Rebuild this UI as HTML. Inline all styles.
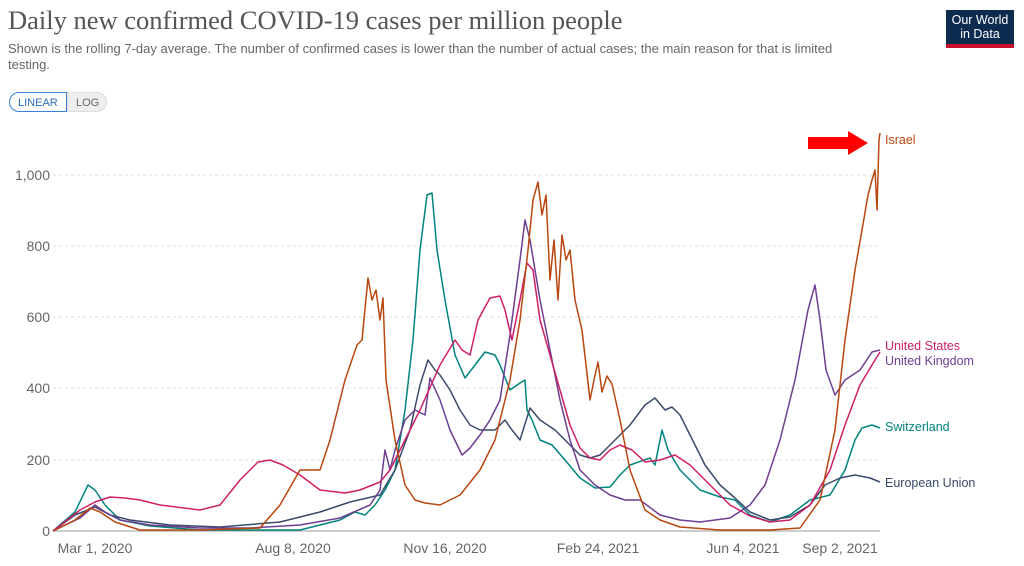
<!DOCTYPE html>
<html><head><meta charset="utf-8"><style>
body{margin:0;width:1024px;height:566px;background:#fff;font-family:"Liberation Sans",sans-serif;overflow:hidden;position:relative}
.t{position:absolute;left:8px;top:5px;font-family:"Liberation Serif",serif;font-size:26.5px;color:#555}
.s{position:absolute;left:8px;top:41px;font-size:13px;color:#666;line-height:16px;width:860px}
.logo{position:absolute;left:946px;top:10px;width:68px;height:38px;background:#0d2a4f;color:#fff;font-size:12.5px;line-height:14px;text-align:center;padding-top:3px;box-sizing:border-box;border-bottom:4px solid #c8102e}
.btn{position:absolute;top:92px;height:20px;font-size:11px;line-height:20px;padding:0 8px;box-sizing:border-box}
</style></head><body>
<div class="t">Daily new confirmed COVID-19 cases per million people</div>
<div class="s">Shown is the rolling 7-day average. The number of confirmed cases is lower than the number of actual cases; the main reason for that is limited testing.</div>
<div class="logo">Our World<br>in Data</div>
<div class="btn" style="left:9px;width:58px;border:1px solid #3a82d8;border-radius:10px 0 0 10px;color:#2a6ebd">LINEAR</div>
<div class="btn" style="left:67px;width:40px;background:#eee;border:1px solid #ddd;border-radius:0 10px 10px 0;color:#666">LOG</div>
<svg width="1024" height="566" style="position:absolute;left:0;top:0" font-family="Liberation Sans, sans-serif">
<g stroke="#ddd" stroke-dasharray="3,3">
<line x1="53" x2="880" y1="175" y2="175"/><line x1="53" x2="880" y1="246" y2="246"/><line x1="53" x2="880" y1="317" y2="317"/><line x1="53" x2="880" y1="388" y2="388"/><line x1="53" x2="880" y1="460" y2="460"/></g>
<line x1="53" x2="880" y1="531" y2="531" stroke="#999"/>
<g font-size="14" fill="#666" text-anchor="end"><text x="50" y="180">1,000</text><text x="50" y="251">800</text><text x="50" y="322">600</text><text x="50" y="393">400</text><text x="50" y="465">200</text><text x="50" y="536">0</text></g>
<g font-size="14" fill="#666" text-anchor="middle"><text x="95" y="553">Mar 1, 2020</text><text x="293" y="553">Aug 8, 2020</text><text x="445" y="553">Nov 16, 2020</text><text x="598" y="553">Feb 24, 2021</text><text x="743" y="553">Jun 4, 2021</text><text x="840" y="553">Sep 2, 2021</text></g>
<g fill="none" stroke-width="1.5" stroke-linejoin="round">
<polyline stroke="#00847e" points="53,531 75,512 88,485 95,490 105,505 120,520 150,526 200,530 300,530 340,520 355,512 365,515 375,505 385,490 395,470 405,410 413,340 420,250 427,195 432,193 437,250 445,300 455,355 465,378 475,365 485,352 495,355 500,365 510,390 520,383 525,380 527,410 532,420 540,440 552,445 565,460 580,478 595,488 610,487 620,475 630,465 650,458 655,465 662,430 668,450 680,470 700,490 720,497 735,500 750,515 770,522 790,515 810,500 830,495 845,470 855,440 862,428 872,425 880,428"/>
<polyline stroke="#3b4a6b" points="53,531 75,515 95,507 110,515 130,520 170,525 220,527 280,522 320,512 350,502 380,495 395,470 410,430 420,385 428,360 435,370 440,375 450,390 460,410 470,425 480,430 495,430 505,420 512,430 520,440 530,408 540,420 555,430 570,445 580,455 590,458 600,455 615,440 630,425 645,405 655,398 665,410 672,407 680,415 690,435 705,465 720,485 735,498 750,512 770,520 790,517 810,505 825,485 840,478 855,475 870,478 880,482"/>
<polyline stroke="#6d3e91" points="53,531 80,518 95,505 105,512 120,520 150,525 200,528 250,528 300,525 340,518 370,505 380,490 385,450 390,470 395,450 405,420 415,410 425,415 430,378 440,400 450,430 462,455 470,448 480,435 490,420 500,400 510,335 520,260 525,220 530,240 540,300 550,350 560,400 570,440 580,470 595,485 610,495 625,500 640,500 660,515 680,520 700,522 730,518 750,505 765,485 780,440 795,380 808,310 815,285 820,320 826,370 835,395 845,380 860,370 872,352 880,350"/>
<polyline stroke="#cf1f66" points="53,531 80,510 95,502 110,497 125,498 140,500 160,505 200,510 220,505 240,480 258,462 270,460 283,465 300,475 320,490 345,493 360,490 380,482 390,470 400,450 420,410 440,365 455,340 462,350 470,355 478,320 490,298 500,296 505,310 512,340 520,300 527,263 533,270 540,320 550,355 560,390 570,425 580,448 590,458 600,460 610,450 620,445 632,450 645,462 660,460 675,455 690,465 710,485 730,505 750,516 770,522 790,520 810,505 830,470 845,425 860,385 875,360 880,352"/>
<polyline stroke="#b9470f" points="53,531 75,520 90,508 100,512 115,522 140,530 200,530 260,528 280,505 300,470 320,470 330,440 345,380 357,345 362,340 368,278 372,300 376,290 380,320 383,298 386,380 395,440 405,485 415,500 425,503 440,505 460,495 480,470 495,440 510,380 520,320 528,250 533,200 538,182 542,215 546,195 550,280 554,240 558,300 562,235 566,260 570,250 575,300 582,330 590,400 594,380 598,362 602,392 607,376 612,384 620,420 630,470 645,510 660,520 680,527 720,530 770,530 800,528 820,500 835,430 845,340 855,270 862,230 868,195 872,180 875,170 877,210 879,140 880,133"/>
</g>
<polygon points="808,137 848,137 848,131 868,143 848,155 848,149 808,149" fill="#f00"/>
<g font-size="12.5"><text x="885" y="144" fill="#b9470f">Israel</text><text x="885" y="350" fill="#cf1f66">United States</text><text x="885" y="365" fill="#6d3e91">United Kingdom</text><text x="885" y="431" fill="#00847e">Switzerland</text><text x="885" y="487" fill="#3b4a6b">European Union</text></g>
</svg>
</body></html>
